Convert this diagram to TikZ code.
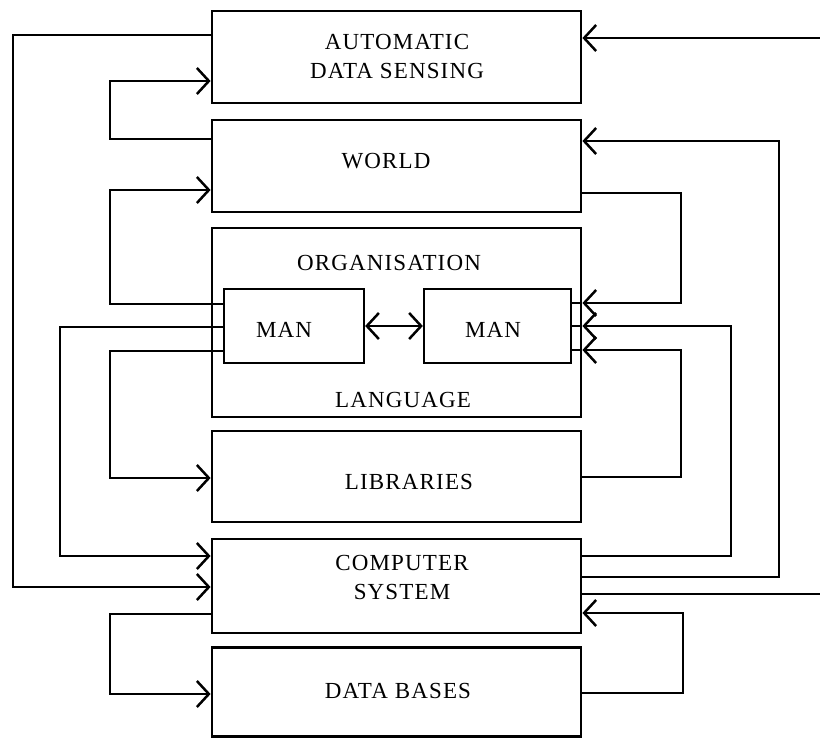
\documentclass[tikz,border=0pt]{standalone}
\usepackage{fontspec}
\setmainfont{Liberation Serif}[LetterSpace=5]
\usetikzlibrary{arrows.meta}

\begin{document}
\begin{tikzpicture}[x=1pt, y=-1pt,
  blk/.style={draw, line width=2.8pt, inner sep=0pt},
  manbox/.style={draw, line width=2.3pt, inner sep=0pt},
  lbl/.style={font=\fontsize{23}{29}\selectfont, inner sep=0pt, align=center},
  link/.style={line width=2.5pt},
  arr/.style={link, -{Straight Barb[length=12pt, width=26pt]}},
  twoarr/.style={link, {Straight Barb[length=12pt, width=26pt]}-{Straight Barb[length=12pt, width=26pt]}}
]
\useasboundingbox (0,0) rectangle (820,740);
\fill[white] (0,0) rectangle (820,740);

% main column of blocks
\node[blk, minimum width=369pt, minimum height=92pt]  (ads)   at (396.5,57)    {};
\node[blk, minimum width=369pt, minimum height=92pt]  (world) at (396.5,166)   {};
\node[blk, minimum width=369pt, minimum height=189pt] (org)   at (396.5,322.5) {};
\node[blk, minimum width=369pt, minimum height=91pt]  (lib)   at (396.5,476.5) {};
\node[blk, minimum width=369pt, minimum height=94pt]  (comp)  at (396.5,586)   {};
\node[blk, minimum width=369pt, minimum height=89pt]  (db)    at (396.5,692)   {};

% the two men inside the organisation
\node[manbox, minimum width=140pt, minimum height=74pt] (man1) at (294,326)   {};
\node[manbox, minimum width=147pt, minimum height=74pt] (man2) at (497.5,326) {};

% labels
\node[lbl] (tads)   at (397,56)  {AUTOMATIC\\DATA SENSING};
\node[lbl] (tworld) at (386,161) {WORLD};
\node[lbl] (torg)   at (389,263) {ORGANISATION};
\node[lbl] (tman1)  at (284,330) {MAN};
\node[lbl] (tman2)  at (493,330) {MAN};
\node[lbl] (tlang)  at (403,400) {LANGUAGE};
\node[lbl] (tlib)   at (409,482) {LIBRARIES};
\node[lbl] (tcomp)  at (402,577) {COMPUTER\\SYSTEM};
\node[lbl] (tdb)    at (398,691) {DATA BASES};

% man to man
\draw[twoarr] (man1.east) -- (man2.west);

% left-hand loops
\draw[arr] (ads.west |- 0,35)    -- (13,35)   -- (13,587)  -- (comp.west |- 0,587);
\draw[arr] (world.west |- 0,139) -- (110,139) -- (110,81)  -- (ads.west |- 0,81);
\draw[arr] (man1.west |- 0,304)  -- (110,304) -- (110,190) -- (world.west |- 0,190);
\draw[arr] (man1.west |- 0,327)  -- (60,327)  -- (60,556)  -- (comp.west |- 0,556);
\draw[arr] (man1.west |- 0,351)  -- (110,351) -- (110,478) -- (lib.west |- 0,478);
\draw[arr] (comp.west |- 0,614)  -- (110,614) -- (110,694) -- (db.west |- 0,694);

% right-hand loops
\draw[arr] (comp.east |- 0,594)  -- (832,594) -- (832,38)  -- (ads.east |- 0,38);
\draw[arr] (comp.east |- 0,577)  -- (779,577) -- (779,141) -- (world.east |- 0,141);
\draw[arr] (world.east |- 0,193) -- (681,193) -- (681,303) -- (org.east |- 0,303);
\draw[arr] (comp.east |- 0,556)  -- (731,556) -- (731,326) -- (org.east |- 0,326);
\draw[arr] (lib.east |- 0,477)   -- (681,477) -- (681,350) -- (org.east |- 0,350);
\draw[arr] (db.east |- 0,693)    -- (683,693) -- (683,613) -- (comp.east |- 0,613);

% stubs from the right-hand man to the organisation border
\draw[link] (man2.east |- 0,303) -- (org.east |- 0,303);
\draw[link] (man2.east |- 0,326) -- (org.east |- 0,326);
\draw[link] (man2.east |- 0,350) -- (org.east |- 0,350);
\end{tikzpicture}
\end{document}
